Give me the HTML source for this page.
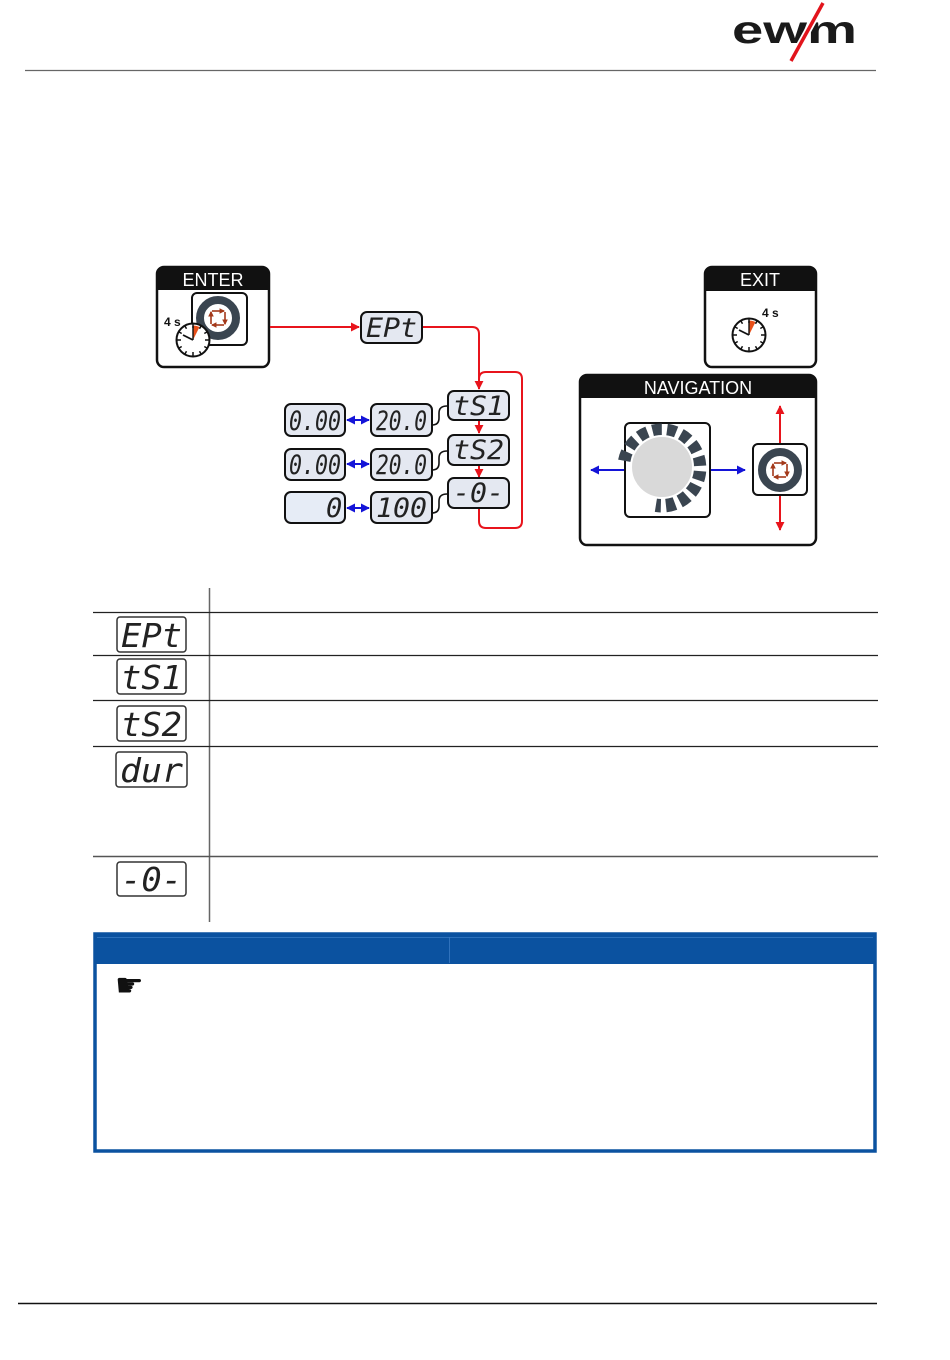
<!DOCTYPE html>
<html><head><meta charset="utf-8">
<style>
html,body{margin:0;padding:0;background:#fff;}
body{width:950px;height:1360px;overflow:hidden;}
svg{display:block;}
</style></head>
<body>
<svg width="950" height="1360" viewBox="0 0 950 1360" xmlns="http://www.w3.org/2000/svg">
<defs>
<marker id="ar" viewBox="0 0 10 10" refX="9" refY="5" markerWidth="4.5" markerHeight="4.5" orient="auto-start-reverse"><path d="M0,0 L10,5 L0,10 z" fill="#e8141c"/></marker>
<marker id="ab" viewBox="0 0 10 10" refX="9" refY="5" markerWidth="4.5" markerHeight="4.5" orient="auto-start-reverse"><path d="M0,0 L10,5 L0,10 z" fill="#1414d8"/></marker>
<marker id="abr" viewBox="0 0 10 10" refX="8" refY="5" markerWidth="3.5" markerHeight="3.5" orient="auto"><path d="M0,0 L10,5 L0,10 z" fill="#a3391a"/></marker>
<g id="clock">
<circle r="16.5" fill="#fff" stroke="#111" stroke-width="2"/>
<path d="M0,0 L0,-14.5 A14.5,14.5 0 0 1 6.5,-13 Z" fill="#e8501a"/>
<g stroke="#111" stroke-width="1.5">
<line x1="0" y1="-16" x2="0" y2="-12"/><line x1="0" y1="16" x2="0" y2="12"/>
<line x1="-16" y1="0" x2="-12" y2="0"/><line x1="16" y1="0" x2="12" y2="0"/>
<line x1="8" y1="-13.9" x2="6.5" y2="-11.3"/><line x1="13.9" y1="-8" x2="11.3" y2="-6.5"/>
<line x1="13.9" y1="8" x2="11.3" y2="6.5"/><line x1="8" y1="13.9" x2="6.5" y2="11.3"/>
<line x1="-8" y1="13.9" x2="-6.5" y2="11.3"/><line x1="-13.9" y1="8" x2="-11.3" y2="6.5"/>
<line x1="-13.9" y1="-8" x2="-11.3" y2="-6.5"/><line x1="-8" y1="-13.9" x2="-6.5" y2="-11.3"/>
</g>
<line x1="0" y1="0" x2="-10" y2="-5" stroke="#111" stroke-width="1.8"/>
<line x1="0" y1="0" x2="0" y2="-14" stroke="#111" stroke-width="1.4"/>
</g>
<g id="btn">
<circle r="18" fill="#fff" stroke="#3a4550" stroke-width="8"/>
<g stroke="#a3391a" stroke-width="1.6" fill="none">
<line x1="-6" y1="-7" x2="6" y2="-7" marker-end="url(#abr)"/>
<line x1="7" y1="-6" x2="7" y2="6" marker-end="url(#abr)"/>
<line x1="6" y1="7" x2="-6" y2="7" marker-end="url(#abr)"/>
<line x1="-7" y1="6" x2="-7" y2="-6" marker-end="url(#abr)"/>
</g>
</g>
</defs>

<!-- header -->
<line x1="25" y1="70.5" x2="876" y2="70.5" stroke="#666" stroke-width="1.2"/>
<text x="732" y="43" font-family="Liberation Sans, sans-serif" font-weight="bold" font-size="39" fill="#1a1a1a" textLength="125" lengthAdjust="spacingAndGlyphs">ewm</text>
<line x1="823" y1="3" x2="791" y2="61" stroke="#fff" stroke-width="7"/>
<line x1="823" y1="3" x2="791" y2="61" stroke="#e2141c" stroke-width="3.5"/>

<!-- ENTER box -->
<rect x="157" y="267" width="112" height="100" rx="7" fill="#fff" stroke="#111" stroke-width="2.5"/>
<path d="M157,290 V274 Q157,267 164,267 H262 Q269,267 269,274 V290 Z" fill="#111"/>
<text x="213" y="286" text-anchor="middle" font-family="Liberation Sans, sans-serif" font-size="18" fill="#fff">ENTER</text>
<rect x="192" y="293" width="55" height="52" rx="5" fill="#fff" stroke="#111" stroke-width="2"/>
<use href="#btn" x="218" y="318"/>
<text x="164" y="326" font-family="Liberation Sans, sans-serif" font-weight="bold" font-size="12" fill="#111">4 s</text>
<use href="#clock" x="193" y="340"/>

<!-- EXIT box -->
<rect x="705" y="267" width="111" height="100" rx="7" fill="#fff" stroke="#111" stroke-width="2.5"/>
<path d="M705,291 V274 Q705,267 712,267 H809 Q816,267 816,274 V291 Z" fill="#111"/>
<text x="760" y="286" text-anchor="middle" font-family="Liberation Sans, sans-serif" font-size="18" fill="#fff">EXIT</text>
<text x="762" y="317" font-family="Liberation Sans, sans-serif" font-weight="bold" font-size="12" fill="#111">4 s</text>
<use href="#clock" x="749" y="335"/>

<!-- NAVIGATION box -->
<rect x="580" y="375" width="236" height="170" rx="7" fill="#fff" stroke="#111" stroke-width="2.5"/>
<path d="M580,398 V382 Q580,375 587,375 H809 Q816,375 816,382 V398 Z" fill="#111"/>
<text x="698" y="394" text-anchor="middle" font-family="Liberation Sans, sans-serif" font-size="18" fill="#fff">NAVIGATION</text>
<rect x="625" y="423" width="85" height="94" rx="5" fill="#fff" stroke="#111" stroke-width="2"/>
<path d="M625.5,461 A37,37 0 1 1 656,504.5" fill="none" stroke="#3a4550" stroke-width="15" stroke-dasharray="9 5"/>
<circle cx="662" cy="467" r="31" fill="#d9d9d9" stroke="#fff" stroke-width="2"/>
<line x1="624" y1="470" x2="591" y2="470" stroke="#1414d8" stroke-width="2" marker-end="url(#ab)"/>
<line x1="711" y1="470" x2="745" y2="470" stroke="#1414d8" stroke-width="2" marker-end="url(#ab)"/>
<rect x="753" y="444" width="54" height="51" rx="5" fill="#fff" stroke="#111" stroke-width="2"/>
<use href="#btn" x="780" y="470"/>
<line x1="780" y1="443" x2="780" y2="406" stroke="#e8141c" stroke-width="2" marker-end="url(#ar)"/>
<line x1="780" y1="496" x2="780" y2="530" stroke="#e8141c" stroke-width="2" marker-end="url(#ar)"/>

<!-- flow connectors -->
<line x1="270" y1="327" x2="359" y2="327" stroke="#e8141c" stroke-width="2" marker-end="url(#ar)"/>
<path d="M422,327 H472 Q479,327 479,334 V389" fill="none" stroke="#e8141c" stroke-width="2" marker-end="url(#ar)"/>
<path d="M479,509 V521 Q479,528 486,528 H515 Q522,528 522,521 V379 Q522,372 515,372 H486 Q479,372 479,379" fill="none" stroke="#e8141c" stroke-width="2"/>
<line x1="479" y1="420" x2="479" y2="433" stroke="#e8141c" stroke-width="2" marker-end="url(#ar)"/>
<line x1="479" y1="465" x2="479" y2="477" stroke="#e8141c" stroke-width="2" marker-end="url(#ar)"/>

<g fill="none" stroke="#111" stroke-width="1.6">
<path d="M432,425 Q439,425 439,418 V413 Q439,406 447,406"/>
<path d="M432,470 Q439,470 439,463 V458 Q439,451 447,451"/>
<path d="M432,513 Q439,513 439,506 V501 Q439,494 447,494"/>
</g>
<g stroke="#1414d8" stroke-width="2">
<line x1="347" y1="420" x2="369" y2="420" marker-start="url(#ab)" marker-end="url(#ab)"/>
<line x1="347" y1="464" x2="369" y2="464" marker-start="url(#ab)" marker-end="url(#ab)"/>
<line x1="347" y1="508" x2="369" y2="508" marker-start="url(#ab)" marker-end="url(#ab)"/>
</g>

<!-- displays -->
<g fill="#e4e8f1" stroke="#111" stroke-width="2">
<rect x="361" y="312" width="61" height="31" rx="6"/>
<rect x="448" y="391" width="61" height="29" rx="6"/>
<rect x="448" y="435" width="61" height="30" rx="6"/>
<rect x="448" y="478" width="61" height="30" rx="6"/>
<rect x="285" y="404" width="60" height="32" rx="6"/>
<rect x="371" y="404" width="61" height="32" rx="6"/>
<rect x="285" y="449" width="60" height="31" rx="6"/>
<rect x="371" y="449" width="61" height="31" rx="6"/>
<rect x="285" y="492" width="60" height="31" rx="6" fill="#e6ecf6"/>
<rect x="371" y="492" width="61" height="31" rx="6"/>
</g>
<g font-family="DejaVu Sans Mono, Liberation Mono, monospace" font-style="italic" font-size="27" fill="#222">
<text x="366" y="337" textLength="51" lengthAdjust="spacingAndGlyphs">EPt</text>
<text x="453" y="415" textLength="51" lengthAdjust="spacingAndGlyphs">tS1</text>
<text x="453" y="459" textLength="51" lengthAdjust="spacingAndGlyphs">tS2</text>
<text x="453" y="502" textLength="51" lengthAdjust="spacingAndGlyphs">-0-</text>
<text x="289" y="430" textLength="52" lengthAdjust="spacingAndGlyphs">0.00</text>
<text x="376" y="430" textLength="51" lengthAdjust="spacingAndGlyphs">20.0</text>
<text x="289" y="474" textLength="52" lengthAdjust="spacingAndGlyphs">0.00</text>
<text x="376" y="474" textLength="51" lengthAdjust="spacingAndGlyphs">20.0</text>
<text x="326" y="517">0</text>
<text x="376" y="517" textLength="51" lengthAdjust="spacingAndGlyphs">100</text>
</g>

<!-- table -->
<line x1="209.5" y1="588" x2="209.5" y2="922" stroke="#666" stroke-width="1.5"/>
<g stroke="#222" stroke-width="1.2">
<line x1="93" y1="612.5" x2="878" y2="612.5"/>
<line x1="93" y1="655.5" x2="878" y2="655.5"/>
<line x1="93" y1="700.5" x2="878" y2="700.5"/>
<line x1="93" y1="746.5" x2="878" y2="746.5"/>
<line x1="93" y1="856.5" x2="878" y2="856.5" stroke="#555" stroke-width="1.5"/>
</g>
<g fill="#fff" stroke="#333" stroke-width="1.5">
<rect x="117" y="617" width="69" height="35" rx="3"/>
<rect x="117" y="659" width="69" height="35" rx="3"/>
<rect x="117" y="706" width="69" height="35" rx="3"/>
<rect x="116" y="752" width="71" height="35" rx="3"/>
<rect x="117" y="862" width="69" height="34" rx="3"/>
</g>
<g font-family="DejaVu Sans Mono, Liberation Mono, monospace" font-style="italic" font-size="33" fill="#222">
<text x="121" y="647" textLength="61" lengthAdjust="spacingAndGlyphs">EPt</text>
<text x="121" y="689" textLength="61" lengthAdjust="spacingAndGlyphs">tS1</text>
<text x="121" y="736" textLength="61" lengthAdjust="spacingAndGlyphs">tS2</text>
<text x="120" y="782" textLength="63" lengthAdjust="spacingAndGlyphs">dur</text>
<text x="121" y="891" textLength="61" lengthAdjust="spacingAndGlyphs">-0-</text>
</g>

<!-- blue note box -->
<rect x="95" y="934" width="780" height="217" fill="#fff" stroke="#0b52a0" stroke-width="3.5"/>
<rect x="95" y="934" width="780" height="30" fill="#0b52a0"/>
<line x1="97" y1="937.5" x2="873" y2="937.5" stroke="#3a7cc4" stroke-width="0.8"/>
<line x1="449.5" y1="937" x2="449.5" y2="963" stroke="#3a7cc4" stroke-width="0.8"/>
<text x="115" y="996" font-family="DejaVu Sans, sans-serif" font-size="32" fill="#111">☛</text>

<!-- footer -->
<line x1="18" y1="1303.5" x2="877" y2="1303.5" stroke="#111" stroke-width="1.6"/>
</svg>
</body></html>
